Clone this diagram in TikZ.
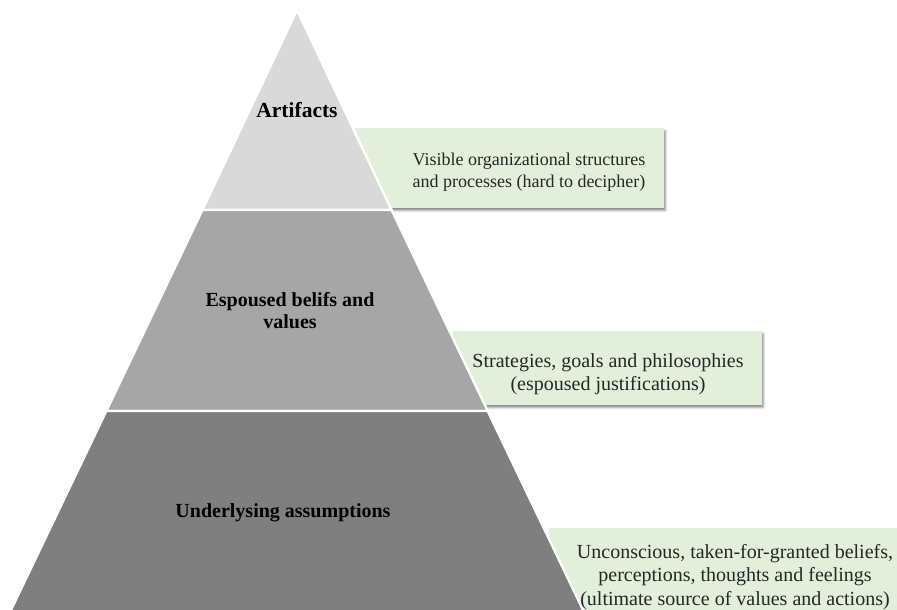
\documentclass[tikz,border=0pt]{standalone}
\usepackage{fontspec}
\setmainfont{Liberation Serif}
\usetikzlibrary{shadows.blur}
\definecolor{tierTop}{HTML}{D9D9D9}
\definecolor{tierMid}{HTML}{A6A6A6}
\definecolor{tierBase}{HTML}{7F7F7F}
\definecolor{noteFill}{HTML}{E2EFDA}
\definecolor{noteText}{HTML}{262626}
\begin{document}
\begin{tikzpicture}[x=1pt,y=-1pt,
  tier/.style={draw=white, line width=2.4pt},
  tierlabel/.style={font=\fontsize{20}{22}\selectfont\bfseries, align=center, text=black},
  notebox/.style={fill=noteFill, blur shadow={shadow xshift=1.5pt, shadow yshift=-2.5pt, shadow blur radius=2pt, shadow opacity=45}},
  notetext/.style={font=\fontsize{20}{23.5}\selectfont, align=center, text=noteText, inner sep=0pt}]
\useasboundingbox (0,0) rectangle (897,610);

% description panels, partly tucked behind the pyramid
\path[notebox] (355,128) rectangle (664,208);
\path[notebox] (453,331) rectangle (762,405);
\path[notebox] (549,528) rectangle (925,640);

% pyramid tiers
\path[tier, fill=tierTop]  (297,10) -- (391.6,210) -- (202.4,210) -- cycle;
\path[tier, fill=tierMid]  (202.4,210) -- (391.6,210) -- (487.7,411) -- (106.3,411) -- cycle;
\path[tier, fill=tierBase] (106.3,411) -- (487.7,411) -- (585.4,615) -- (8.6,615) -- cycle;

% tier labels
\node[tierlabel, font=\fontsize{21.5}{23}\selectfont\bfseries] (artifacts) at (297,110) {Artifacts};
\node[tierlabel] (espoused)    at (290,311) {Espoused belifs and\\values};
\node[tierlabel] (assumptions) at (283,513) {Underlysing assumptions};

% panel texts
\node[notetext, font=\fontsize{18}{21.5}\selectfont] (artifactsnote) at (529,172) {Visible organizational structures\\and processes (hard to decipher)};
\node[notetext] (espousednote)    at (608,374) {Strategies, goals and philosophies\\(espoused justifications)};
\node[notetext] (assumptionsnote) at (735,577) {Unconscious, taken-for-granted beliefs,\\perceptions, thoughts and feelings\\(ultimate source of values and actions)};
\end{tikzpicture}
\end{document}
